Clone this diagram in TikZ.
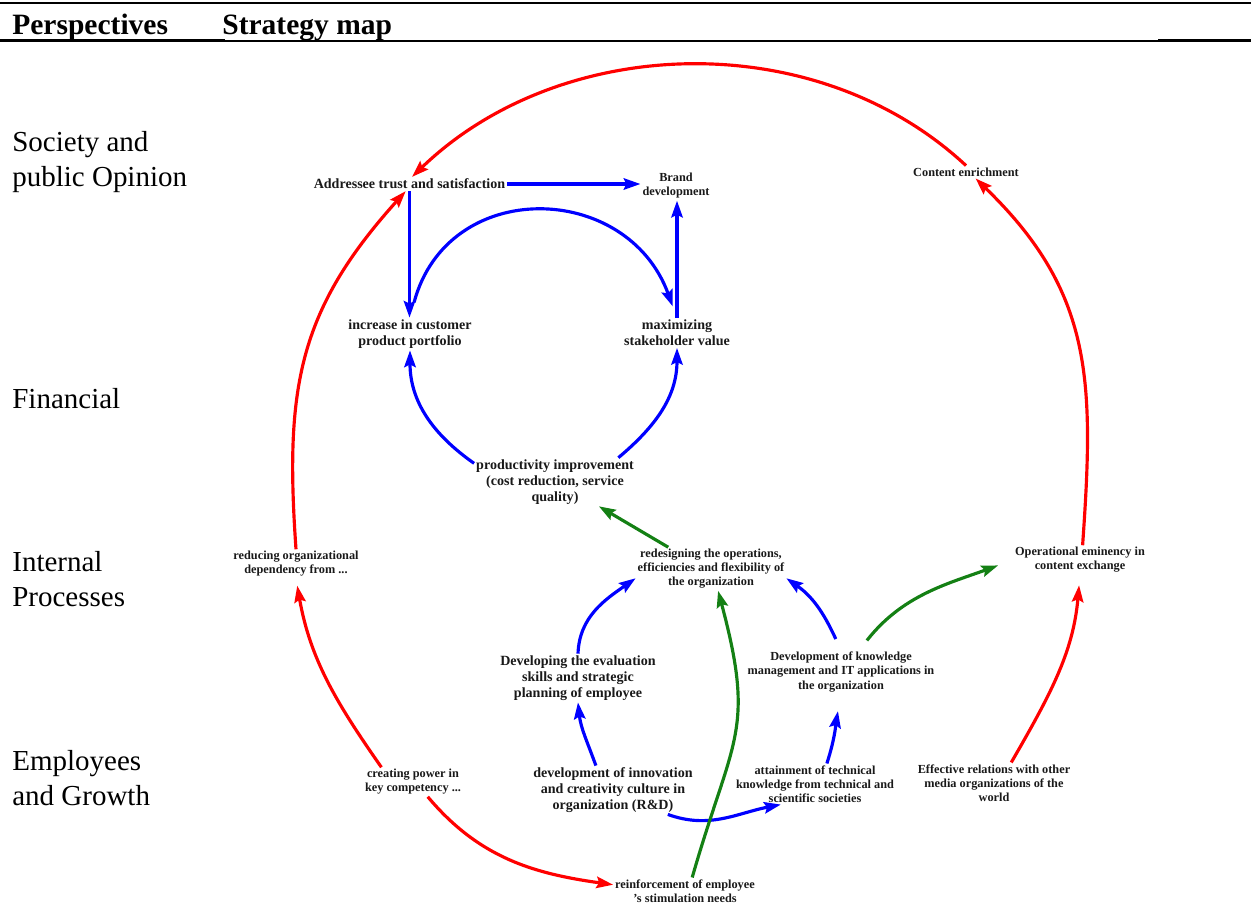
\documentclass[tikz,border=0pt]{standalone}
\usepackage{fontspec}
\setmainfont{Liberation Serif}
\usetikzlibrary{arrows.meta}
\definecolor{arrgreen}{RGB}{20,128,20}

\begin{document}
\begin{tikzpicture}[x=0.02cm, y=-0.02cm,
  redarr/.style={draw=red, line width=1.8pt, -{Stealth[length=9.5pt,width=6.5pt,inset=1.5pt]}},
  bluearr/.style={draw=blue, line width=1.8pt, -{Stealth[length=9.5pt,width=6.5pt,inset=1.5pt]}},
  greenarr/.style={draw=arrgreen, line width=1.8pt, -{Stealth[length=9.5pt,width=6.5pt,inset=1.5pt]}},
  goalbig/.style={font=\bfseries\fontsize{8}{9}\selectfont, align=center, inner sep=1pt, text=black!90},
  goalsmall/.style={font=\bfseries\fontsize{7}{8}\selectfont, align=center, inner sep=1pt, text=black!90},
  persp/.style={font=\fontsize{16.5}{20.4}\selectfont, align=left, anchor=west, inner sep=0pt},
  heading/.style={font=\bfseries\fontsize{16.8}{20}\selectfont, anchor=base west, inner sep=0pt}]
\useasboundingbox (0,0) rectangle (1251,914);
\draw[line width=1.5pt] (0,3) -- (1251,3);
\draw[line width=1.9pt] (0,40.3) -- (225,40.3);
\draw[line width=1.1pt] (225,40.8) -- (1158,40.8);
\draw[line width=1.9pt] (1158,40.3) -- (1251,40.3);
\node[heading] (hp) at (12,34) {Perspectives};
\node[heading] (hs) at (222,34) {Strategy map};
\node[persp] (ps) at (12,162) {Society and\\public Opinion};
\node[persp] (pf) at (12,399) {Financial};
\node[persp] (pi) at (12,579) {Internal\\Processes};
\node[persp] (pe) at (12,778) {Employees\\and Growth};
\node[goalbig] (addr) at (409.5,184) {Addressee trust and satisfaction};
\node[goalsmall] (brand) at (676,186) {Brand\\development};
\node[goalsmall] (content) at (966,172) {Content enrichment};
\node[goalbig] (incr) at (410,334) {increase in customer\\product portfolio};
\node[goalbig] (maxim) at (677,333) {maximizing\\stakeholder value};
\node[goalbig] (prod) at (555,482) {productivity improvement\\(cost reduction, service\\quality)};
\node[goalsmall] (reduc) at (296,564) {reducing organizational\\dependency from ...};
\node[goalsmall] (redes) at (711,569) {redesigning the operations,\\efficiencies and flexibility of\\the organization};
\node[goalsmall] (opem) at (1080,560) {Operational eminency in\\content exchange};
\node[goalbig] (devev) at (578,678) {Developing the evaluation\\skills and strategic\\planning of employee};
\node[goalsmall] (devkn) at (841,672) {Development of knowledge\\management and IT applications in\\the organization};
\node[goalsmall] (creat) at (413,782) {creating power in\\key competency ...};
\node[goalbig] (innov) at (613,790) {development of innovation\\and creativity culture in\\organization (R\&D)};
\node[goalsmall] (attain) at (815,784) {attainment of technical\\knowledge from technical and\\scientific societies};
\node[goalsmall] (effect) at (994,783) {Effective relations with other\\media organizations of the\\world};
\node[goalsmall] (reinf) at (685,891) {reinforcement of employee\\’s stimulation needs};
\draw[redarr] (content.north) to[out=137,in=44,looseness=0.95] (addr.70);
\draw[redarr] (reduc.north) to[out=94,in=228,looseness=1.1] (addr.242);
\draw[redarr] (opem.80) to[out=86,in=-44,looseness=1.1] (content.-34);
\draw[redarr, shorten >=4pt] (creat.155) to[out=125,in=-80] (reduc.south);
\draw[redarr, shorten >=6pt] (effect.50) to[out=60,in=-95] (opem.south);
\draw[redarr] (creat.-45) to[out=-50,in=172] (reinf.175);
\draw[bluearr] (addr.east) -- (addr.east -| brand.west);
\draw[bluearr] (addr.south) -- (addr.south |- incr.north);
\draw[bluearr] (maxim.north) -- (maxim.north |- brand.south);
\draw[bluearr, shorten <=9pt, shorten >=7pt] (incr.north) to[out=75,in=110,looseness=1.4] (maxim.north);
\draw[bluearr] (prod.167) to[out=145,in=-90] (incr.south);
\draw[bluearr] (prod.21) to[out=40,in=-90] (maxim.south);
\draw[bluearr] (devev.north) to[out=88,in=215] (redes.187);
\draw[bluearr] (innov.125) to[out=110,in=-84] (devev.south);
\draw[bluearr] (innov.-24) to[out=-20,in=191] (attain.211);
\draw[bluearr, shorten >=10pt] (attain.60) to[out=72,in=-100] (devkn.south);
\draw[bluearr, shorten <=7pt] (devkn.north) to[out=115,in=-35] (redes.-7);
\draw[greenarr] (redes.153) -- (prod.-29);
\draw[greenarr] (reinf.62) to[out=74,in=-75,looseness=1.3] (redes.-72);
\draw[greenarr, shorten <=7pt, shorten >=9pt] (devkn.50) to[out=52,in=200] (opem.west);
\end{tikzpicture}
\end{document}
